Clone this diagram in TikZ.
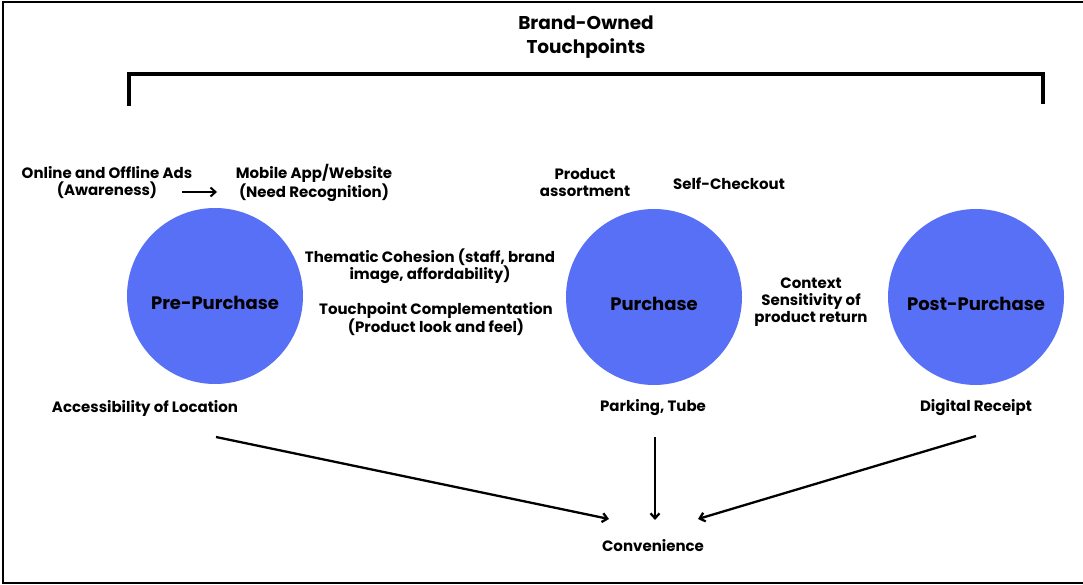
\documentclass[tikz,border=0pt]{standalone}
\usepackage{fontspec}
\setmainfont{Poppins}
\usetikzlibrary{arrows.meta}
\definecolor{stage}{RGB}{88,112,245}
\tikzset{
  stagecircle/.style={circle, fill=stage, minimum size=176pt, inner sep=0pt},
  stagename/.style={font=\bfseries\fontsize{18}{20}\selectfont, yshift=-7pt, inner sep=0pt},
  lbl/.style={align=center, inner sep=0pt, font=\bfseries\fontsize{15}{17}\selectfont},
  flow/.style={line width=2.3pt, -{Straight Barb[length=5pt,width=9pt]}},
  frame/.style={line width=2pt},
  bracket/.style={line width=4pt}
}
\begin{document}
\begin{tikzpicture}[x=1pt,y=-1pt]
\useasboundingbox (0,0) rectangle (1083,585);
\fill[white] (0,0) rectangle (1083,585);
% outer frame
\draw[frame] (1083,2) -- (3,2) -- (3,583) -- (1083,583);

% heading and bracket
\node[lbl, font=\bfseries\fontsize{18.5}{24}\selectfont] (title) at (586,37) {Brand-Owned\\Touchpoints};
\draw[bracket] (129,106) -- (129,74) -- (1043,74) -- (1043,104);

% stages
\node[stagecircle, label={[stagename]center:Pre-Purchase}] (pre) at (215,296) {};
\node[stagecircle, label={[stagename]center:Purchase}] (pur) at (654,297) {};
\node[stagecircle, label={[stagename]center:Post-Purchase}] (post) at (976,297) {};

% touchpoint labels
\node[lbl] (ads) at (107,183) {Online and Offline Ads\\(Awareness)};
\node[lbl] (app) at (314,183) {Mobile App/Website\\(Need Recognition)};
\coordinate (adsA) at (182,192);
\coordinate (adsB) at (217,192);
\draw[flow, line width=2pt] (adsA) -- (adsB);

\node[lbl] (assort) at (585,183) {Product\\assortment};
\node[lbl] (self) at (729,184) {Self-Checkout};
\node[lbl] (theme) at (430,266) {Thematic Cohesion (staff, brand\\image, affordability)};
\node[lbl] (compl) at (436,319) {Touchpoint Complementation\\(Product look and feel)};
\node[lbl] (ctx) at (811,302) {Context\\Sensitivity of\\product return};

\node[lbl] (access) at (145,408) {Accessibility of Location};
\node[lbl] (park) at (653,408) {Parking, Tube};
\node[lbl] (receipt) at (976,408) {Digital Receipt};
\node[lbl] (conv) at (653,546) {Convenience};

% flows into convenience
\coordinate (fromPre) at (216,437);
\coordinate (fromPur) at (655,437);
\coordinate (fromPost) at (976,436);
\coordinate (toPre) at (609,519);
\coordinate (toPur) at (655,520);
\coordinate (toPost) at (698,519);
\draw[flow] (fromPre) -- (toPre);
\draw[flow] (fromPur) -- (toPur);
\draw[flow] (fromPost) -- (toPost);
\end{tikzpicture}
\end{document}
